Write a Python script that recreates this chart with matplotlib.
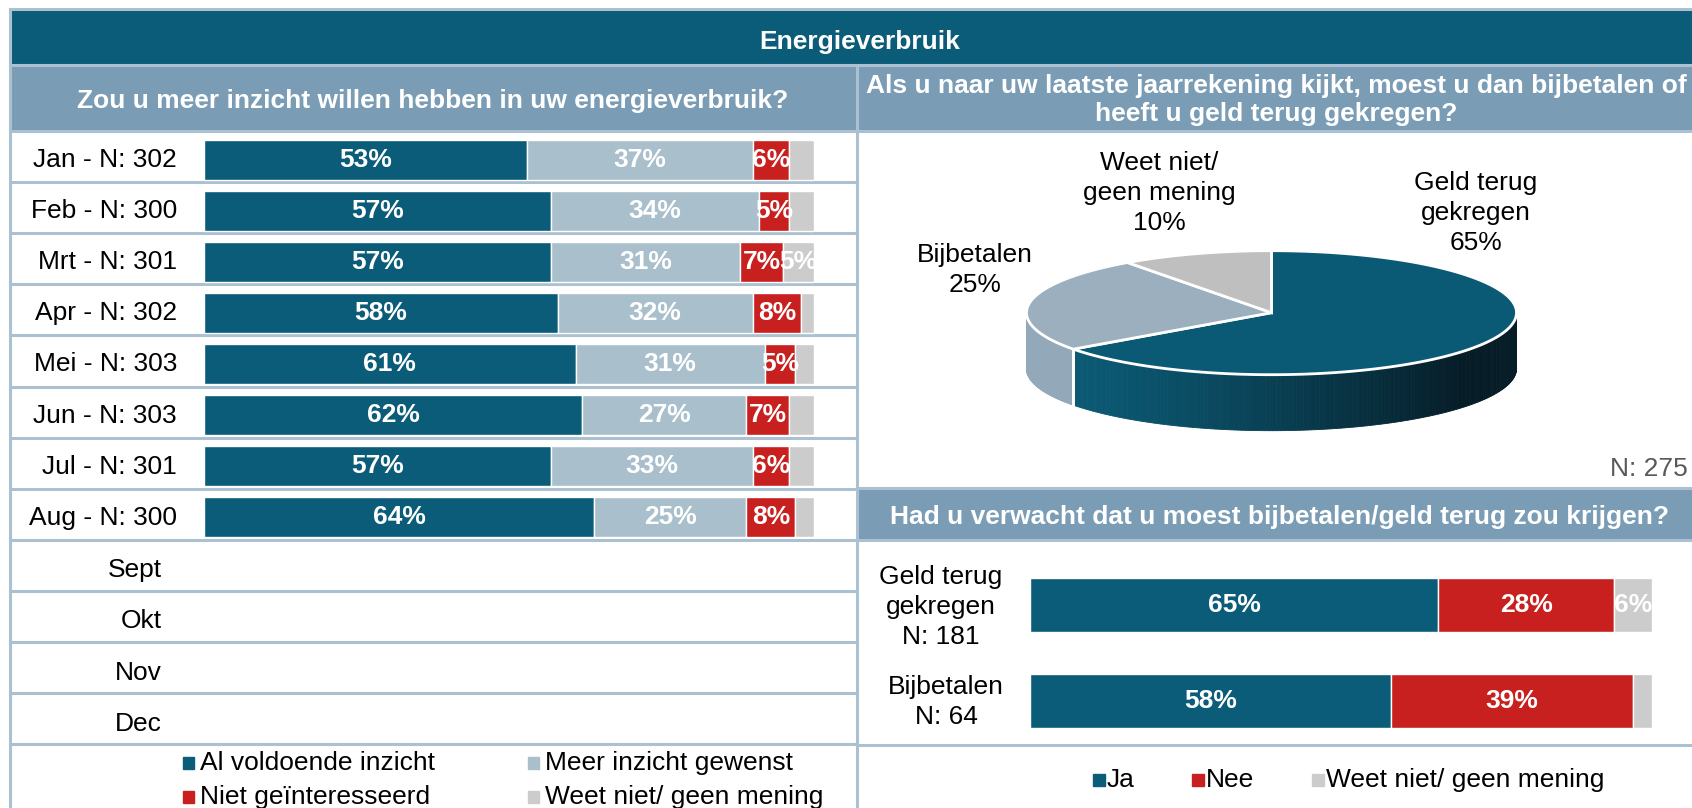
import numpy as np
import matplotlib.pyplot as plt
from matplotlib.patches import Rectangle, Polygon

plt.rcParams['font.family'] = ['Liberation Sans', 'DejaVu Sans']

# --- data ---
months = ['Jan - N: 302', 'Feb - N: 300', 'Mrt - N: 301', 'Apr - N: 302',
          'Mei - N: 303', 'Jun - N: 303', 'Jul - N: 301', 'Aug - N: 300']
empty_months = ['Sept', 'Okt', 'Nov', 'Dec']
voldoende = [53, 57, 57, 58, 61, 62, 57, 64]
meer = [37, 34, 31, 32, 31, 27, 33, 25]
niet = [6, 5, 7, 8, 5, 7, 6, 8]
weetniet = [4, 4, 5, 2, 3, 4, 4, 3]
left_names = ['Al voldoende inzicht', 'Meer inzicht gewenst',
              'Niet geïnteresseerd', 'Weet niet/ geen mening']

pie_labels = ['Geld terug\ngekregen', 'Bijbetalen', 'Weet niet/\ngeen mening']
pie_vals = [65, 25, 10]
pie_n = 'N: 275'

groups = ['Geld terug\ngekregen\nN: 181', 'Bijbetalen\nN: 64']
ja = [65, 58]
nee = [28, 39]
weet = [6, 3]
right_names = ['Ja', 'Nee', 'Weet niet/ geen mening']

# --- style ---
W, H = 1692, 808
DARK = '#0B5C78'
SUB = '#7A9DB5'
LINE = '#ABC0D0'
BLUE = '#0B5C78'
LIGHT = '#A9BFCC'
RED = '#C8201F'
GRAY = '#CCCCCC'
FS = 19

fig = plt.figure(figsize=(W / 100, H / 100), dpi=100)
bg = fig.add_axes([0, 0, 1, 1])
bg.set_xlim(0, W)
bg.set_ylim(H, 0)
bg.axis('off')

# table frame
bg.add_patch(Rectangle((10, 10), W - 10, 55, color=DARK, zorder=1))
bg.add_patch(Rectangle((10, 65), 847, 66, color=SUB, zorder=1))
bg.add_patch(Rectangle((857, 65), W - 857, 66, color=SUB, zorder=1))
bg.add_patch(Rectangle((857, 488), W - 857, 52, color=SUB, zorder=1))
lw = 2.2
bg.plot([10, W], [9, 9], color=LINE, lw=lw)
bg.plot([10, 10], [9, H], color=LINE, lw=lw)
bg.plot([857, 857], [65, H], color=LINE, lw=lw)
bg.plot([10, W], [65, 65], color=LINE, lw=lw)
bg.plot([10, W], [131, 131], color=LINE, lw=lw)
row_top, row_h = 131, 51.1
for k in range(1, 13):
    y = row_top + k * row_h
    bg.plot([10, 857], [y, y], color=LINE, lw=lw)
for y in [488, 540, 745]:
    bg.plot([857, W], [y, y], color=LINE, lw=lw)

bg.text(860, 42, 'Energieverbruik', color='white', fontsize=FS,
        fontweight='bold', ha='center', va='center')
bg.text(433, 101, 'Zou u meer inzicht willen hebben in uw energieverbruik?',
        color='white', fontsize=FS, fontweight='bold', ha='center', va='center')
bg.text(1276, 100, 'Als u naar uw laatste jaarrekening kijkt, moest u dan bijbetalen of\n'
        'heeft u geld terug gekregen?', color='white', fontsize=FS,
        fontweight='bold', ha='center', va='center', linespacing=1.25)
bg.text(1280, 517, 'Had u verwacht dat u moest bijbetalen/geld terug zou krijgen?',
        color='white', fontsize=FS, fontweight='bold', ha='center', va='center')

# --- left stacked bars ---
axl = fig.add_axes([204 / W, 1 - 744 / H, 609.5 / W, 613 / H])
axl.patch.set_alpha(0)
axl.axis('off')
axl.set_xlim(0, 100)
axl.set_ylim(11.5, -0.5)
ypos = np.arange(len(months)) + 0.06
left = np.zeros(len(months))
for vals, col in zip([voldoende, meer, niet, weetniet], [BLUE, LIGHT, RED, GRAY]):
    vals = np.array(vals, dtype=float)
    axl.barh(ypos, vals, left=left, height=0.78, color=col,
             edgecolor='white', linewidth=1.0)
    for y, l, v in zip(ypos, left, vals):
        if v >= 5:
            axl.text(l + v / 2, y, f'{v:.0f}%', color='white', fontsize=FS,
                     fontweight='bold', ha='center', va='center')
    left += vals

for i, m in enumerate(months):
    bg.text(177, row_top + (i + 0.5) * row_h + 3.5, m, fontsize=FS,
            ha='right', va='center')
for j, m in enumerate(empty_months):
    bg.text(162, row_top + (len(months) + j + 0.5) * row_h + 5, m, fontsize=FS,
            ha='right', va='center')

# left legend
leg_pos = [(183, 763), (528, 763), (183, 797), (528, 797)]
for (x, y), name, col in zip(leg_pos, left_names, [BLUE, LIGHT, RED, GRAY]):
    bg.add_patch(Rectangle((x, y - 6), 11, 12, color=col))
    bg.text(x + 17, y, name, fontsize=FS, ha='left', va='center')

# --- 3D pie ---
cx, cy, rx, ry, depth = 1271.5, 312.7, 245, 62, 56
top_cols = ['#0B5A75', '#9BAFBE', '#BFBFBF']
side_cols = [None, '#93A8B8', '#A8A8A8']
total = float(sum(pie_vals))
cum = np.concatenate([[0], np.cumsum(pie_vals)]) / total
starts = 90 - 360 * cum[:-1]
ends = 90 - 360 * cum[1:]


def rim(t):
    t = np.radians(t)
    return cx + rx * np.cos(t), cy - ry * np.sin(t)


blue_dark = np.array([6, 28, 38]) / 255
blue_top = np.array([11, 90, 117]) / 255
for i in range(len(pie_vals)):
    lo, hi = max(ends[i], -180), min(starts[i], 0)
    if lo >= hi:
        continue
    th = np.linspace(lo, hi, 160)
    for a, b in zip(th[:-1], th[1:]):
        x1, y1 = rim(a)
        x2, y2 = rim(b)
        if i == 0:
            t = np.clip((0.5 * (x1 + x2) - (cx - 0.85 * rx)) / (1.65 * rx), 0, 1)
            t = t ** 1.3
            col = blue_top * (1 - t) + blue_dark * t
        else:
            col = side_cols[i]
        bg.add_patch(Polygon([(x1, y1), (x2, y2), (x2, y2 + depth), (x1, y1 + depth)],
                             closed=True, facecolor=col, edgecolor=col, lw=0.6, zorder=3))
    for t0 in [lo, hi]:
        if -180 < t0 < 0:
            xb, yb = rim(t0)
            bg.plot([xb, xb], [yb, yb + depth], color='white', lw=2, zorder=4)

for i in range(len(pie_vals)):
    th = np.linspace(starts[i], ends[i], 200)
    xs, ys = rim(th)
    pts = [(cx, cy)] + list(zip(xs, ys))
    bg.add_patch(Polygon(pts, closed=True, facecolor=top_cols[i],
                         edgecolor='white', lw=2, zorder=5))

pie_text_pos = [(1476, 213), (975, 270), (1159, 193)]
for (x, y), lab, v in zip(pie_text_pos, pie_labels, pie_vals):
    bg.text(x, y, f'{lab}\n{v}%', fontsize=FS, ha='center', va='center',
            linespacing=1.3, zorder=6)
bg.text(1688, 469, pie_n, fontsize=FS, color='#595959', ha='right', va='center')

# --- right stacked bars ---
axr = fig.add_axes([1030 / W, 1 - 749 / H, 622 / W, 192 / H])
axr.patch.set_alpha(0)
axr.axis('off')
axr.set_xlim(0, 100)
axr.set_ylim(1.5, -0.5)
tot_r = np.array(ja) + np.array(nee) + np.array(weet)
left = np.zeros(len(groups))
for vals, col in zip([ja, nee, weet], [BLUE, RED, GRAY]):
    vals = np.array(vals, dtype=float)
    w = vals / tot_r * 100
    axr.barh(np.arange(len(groups)), w, left=left, height=0.57, color=col,
             edgecolor='white', linewidth=1.0)
    for y, l, ww, v in zip(range(len(groups)), left, w, vals):
        if v >= 5:
            axr.text(l + ww / 2, y, f'{v:.0f}%', color='white', fontsize=FS,
                     fontweight='bold', ha='center', va='center')
    left += w

for (x, y), g in zip([(941, 607), (946, 702)], groups):
    bg.text(x, y, g, fontsize=FS, ha='center', va='center', linespacing=1.3)

for x, name, col in zip([1093, 1192, 1312], right_names, [BLUE, RED, GRAY]):
    bg.add_patch(Rectangle((x, 774), 12, 12, color=col))
    bg.text(x + 14, 780, name, fontsize=FS, ha='left', va='center')

fig.savefig('out.png', dpi=100)
